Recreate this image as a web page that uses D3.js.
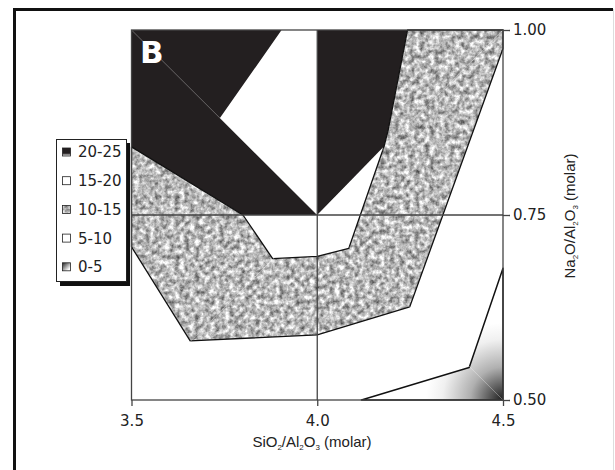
<!DOCTYPE html>
<html>
<head>
<meta charset="utf-8">
<script src="https://cdn.jsdelivr.net/npm/d3@7"></script>
<style>
  body { margin: 0; background: #fff; }
  svg { display: block; }
</style>
</head>
<body>
<div id="container"></div>
<script>
var width = 615;
var height = 470;

// axis ticks
var xTicks = [3.5, 4.0, 4.5];
var yTicks = [0.50, 0.75, 1.00];

// legend classes, top to bottom
var legendLabels = ["20-25", "15-20", "10-15", "5-10", "0-5"];
var legendKinds = ["black", "white", "grain", "white", "fade"];

// contour regions, [SiO2/Al2O3, Na2O/Al2O3]
var region2025left = [[3.5, 1.0], [3.904, 1.0], [3.738, 0.881], [4.0, 0.75], [3.80, 0.75], [3.5, 0.842]];
var region2025right = [[4.0, 1.0], [4.243, 1.0], [4.191, 0.865], [4.180, 0.843], [4.0, 0.75]];
var region1015 = [[3.5, 0.842], [3.80, 0.75], [3.88, 0.691], [4.0, 0.694], [4.085, 0.705],
                  [4.180, 0.843], [4.191, 0.865], [4.243, 1.0], [4.5, 1.0], [4.5, 0.975],
                  [4.249, 0.626], [4.0, 0.588], [3.658, 0.580], [3.5, 0.707]];
var region05 = [[4.119, 0.5], [4.409, 0.544], [4.5, 0.678], [4.5, 0.5]];

// triangulation diagonals (centre of grid to outer corners)
var diagonals = [
  [[4.0, 0.75], [3.5, 1.0]],
  [[4.0, 0.75], [4.5, 1.0]],
  [[4.0, 0.75], [3.5, 0.5]],
  [[4.0, 0.75], [4.5, 0.5]]
];

var plot = { left: 131.5, right: 503, top: 30, bottom: 400 };

var x = d3.scaleLinear().domain([3.5, 4.5]).range([plot.left, plot.right]);
var y = d3.scaleLinear().domain([0.5, 1.0]).range([plot.bottom, plot.top]);

var line = d3.line().x(function(d) { return x(d[0]); }).y(function(d) { return y(d[1]); });
function poly(pts) { return line(pts) + "Z"; }

const svg = d3.create("svg")
  .attr("width", width)
  .attr("height", height);

var defs = svg.append("defs");

// mottled grey texture for the 10-15 class
var f = defs.append("filter").attr("id", "grain")
  .attr("x", 0).attr("y", 0).attr("width", 1).attr("height", 1)
  .attr("color-interpolation-filters", "sRGB");
f.append("feTurbulence").attr("type", "fractalNoise").attr("baseFrequency", 0.2)
  .attr("numOctaves", 3).attr("seed", 4).attr("result", "n");
f.append("feColorMatrix").attr("in", "n").attr("type", "matrix")
  .attr("values", "1.05 0 0 0 0.2  1.05 0 0 0 0.2  1.05 0 0 0 0.2  0 0 0 0 1")
  .attr("result", "g");
f.append("feComposite").attr("in", "g").attr("in2", "SourceGraphic").attr("operator", "in");

// corner shading for the 0-5 class
var rg = defs.append("radialGradient").attr("id", "fade")
  .attr("gradientUnits", "userSpaceOnUse")
  .attr("cx", x(4.5)).attr("cy", y(0.5)).attr("r", 110);
rg.append("stop").attr("offset", 0).attr("stop-color", "#1e1e1e");
rg.append("stop").attr("offset", 0.08).attr("stop-color", "#444");
rg.append("stop").attr("offset", 0.3).attr("stop-color", "#b0b0b0");
rg.append("stop").attr("offset", 0.55).attr("stop-color", "#f0f0f0");
rg.append("stop").attr("offset", 0.7).attr("stop-color", "#fff");

var lgBlack = defs.append("linearGradient").attr("id", "swBlack")
  .attr("x1", 0).attr("y1", 0).attr("x2", 0).attr("y2", 1);
lgBlack.append("stop").attr("offset", 0.65).attr("stop-color", "#231f20");
lgBlack.append("stop").attr("offset", 1).attr("stop-color", "#fff");

var lgFade = defs.append("linearGradient").attr("id", "swFade")
  .attr("x1", 0).attr("y1", 0).attr("x2", 1).attr("y2", 1);
lgFade.append("stop").attr("offset", 0).attr("stop-color", "#222");
lgFade.append("stop").attr("offset", 0.8).attr("stop-color", "#fff");

// outer frame
svg.append("path")
  .attr("d", "M14.5," + height + "V9.5H613")
  .attr("fill", "none").attr("stroke", "#111").attr("stroke-width", 3);
svg.append("line")
  .attr("x1", 613.5).attr("x2", 613.5).attr("y1", 9).attr("y2", height)
  .attr("stroke", "#ddd");

// regions
svg.append("path").attr("d", poly(region2025left)).attr("fill", "#231f20");
svg.append("path").attr("d", poly(region2025right)).attr("fill", "#231f20");
svg.append("path").attr("d", poly(region1015)).attr("fill", "#000").attr("filter", "url(#grain)");
svg.append("path").attr("d", poly(region1015)).attr("fill", "none")
  .attr("stroke", "#111").attr("stroke-width", 1.3).attr("stroke-linejoin", "round");
svg.append("path").attr("d", poly(region05)).attr("fill", "url(#fade)")
  .attr("stroke", "#111").attr("stroke-width", 1.5).attr("stroke-linejoin", "round");

svg.selectAll(".diag").data(diagonals).enter().append("path")
  .attr("class", "diag")
  .attr("d", function(d) { return line(d); })
  .attr("stroke", "#fff").attr("stroke-opacity", 0.4).attr("stroke-width", 0.8);

// grid lines
svg.append("line").attr("x1", x(4.0)).attr("x2", x(4.0)).attr("y1", y(1.0)).attr("y2", y(0.5))
  .attr("stroke", "#444").attr("stroke-width", 1.3);
svg.append("line").attr("x1", x(3.5)).attr("x2", x(4.5)).attr("y1", y(0.75)).attr("y2", y(0.75))
  .attr("stroke", "#444").attr("stroke-width", 1.3);

// plot border
svg.append("rect")
  .attr("x", plot.left).attr("y", plot.top)
  .attr("width", plot.right - plot.left).attr("height", plot.bottom - plot.top)
  .attr("fill", "none").attr("stroke", "#444").attr("stroke-width", 1.3);

// axes
var xAxis = svg.append("g")
  .attr("transform", "translate(0," + plot.bottom + ")")
  .call(d3.axisBottom(x).tickValues(xTicks).tickFormat(d3.format(".1f")).tickSize(6).tickPadding(9));
var yAxis = svg.append("g")
  .attr("transform", "translate(" + plot.right + ",0)")
  .call(d3.axisRight(y).tickValues(yTicks).tickFormat(d3.format(".2f")).tickSize(7).tickPadding(3));

[xAxis, yAxis].forEach(function(a) {
  a.select(".domain").remove();
  a.selectAll(".tick line").attr("stroke", "#444").attr("stroke-width", 1.3);
  a.selectAll(".tick text")
    .attr("fill", "#222")
    .style("font-family", "'DejaVu Sans', Verdana, sans-serif")
    .style("font-size", "15px");
});

// axis titles
var xt = svg.append("text")
  .attr("x", 312).attr("y", 447)
  .attr("text-anchor", "middle")
  .attr("fill", "#222")
  .style("font-family", "'Liberation Sans', Arial, sans-serif")
  .style("font-size", "15px");
var yt = svg.append("text")
  .attr("transform", "translate(575,216) rotate(-90)")
  .attr("text-anchor", "middle")
  .attr("fill", "#222")
  .style("font-family", "'Liberation Sans', Arial, sans-serif")
  .style("font-size", "15px");

function chem(t, parts) {
  var down = false;
  parts.forEach(function(p) {
    var s = t.append("tspan").text(p[0]);
    if (p[1]) {
      s.style("font-size", "8px").attr("dy", down ? 0 : 3);
      down = true;
    } else if (down) {
      s.attr("dy", -3);
      down = false;
    }
  });
}
chem(xt, [["SiO"], ["2", 1], ["/Al"], ["2", 1], ["O"], ["3", 1], [" (molar)"]]);
chem(yt, [["Na"], ["2", 1], ["O/Al"], ["2", 1], ["O"], ["3", 1], [" (molar)"]]);

// panel letter
svg.append("text")
  .attr("x", 140).attr("y", 63)
  .attr("fill", "#fff")
  .style("font-family", "'DejaVu Sans', Verdana, sans-serif")
  .style("font-weight", "bold")
  .style("font-size", "31px")
  .text("B");

// legend
var lg = svg.append("g");
lg.append("rect").attr("x", 60).attr("y", 143).attr("width", 70).attr("height", 143).attr("fill", "#111");
lg.append("rect").attr("x", 56.5).attr("y", 139.5).attr("width", 70).attr("height", 142)
  .attr("fill", "#fff").attr("stroke", "#222");

var items = lg.selectAll(".item").data(legendLabels).enter().append("g")
  .attr("class", "item")
  .attr("transform", function(d, i) { return "translate(0," + (152 + i * 28.7) + ")"; });

items.append("rect")
  .attr("x", 62.5).attr("y", -4).attr("width", 8).attr("height", 8)
  .attr("fill", function(d, i) {
    var k = legendKinds[i];
    if (k == "black") return "url(#swBlack)";
    if (k == "fade") return "url(#swFade)";
    if (k == "grain") return "#000";
    return "#fff";
  })
  .attr("filter", function(d, i) { return legendKinds[i] == "grain" ? "url(#grain)" : null; })
  .attr("stroke", function(d, i) { return legendKinds[i] == "grain" ? null : "#222"; })
  .attr("stroke-width", 0.8);
items.filter(function(d, i) { return legendKinds[i] == "grain"; }).append("rect")
  .attr("x", 62.5).attr("y", -4).attr("width", 8).attr("height", 8)
  .attr("fill", "none").attr("stroke", "#222").attr("stroke-width", 0.8);

items.append("text")
  .attr("x", 78).attr("dy", "0.36em")
  .attr("fill", "#222")
  .style("font-family", "'DejaVu Sans', Verdana, sans-serif")
  .style("font-size", "15px")
  .text(function(d) { return d; });

document.getElementById("container").append(svg.node());
</script>
</body>
</html>
